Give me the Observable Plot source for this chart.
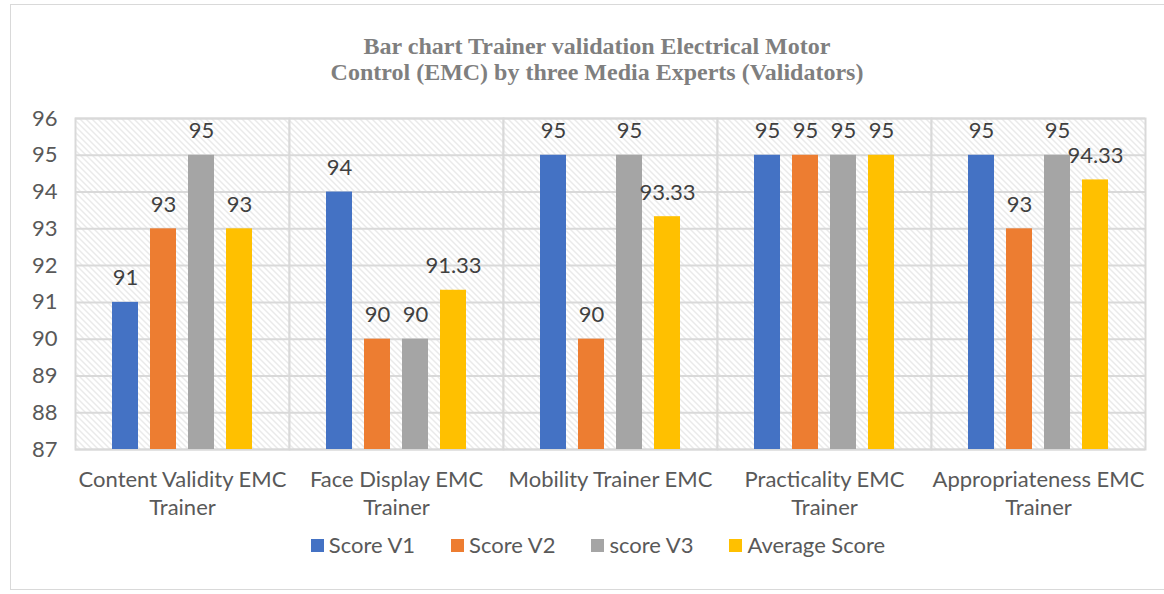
<!DOCTYPE html>
<html>
<head>
<meta charset="utf-8">
<script src="https://cdn.jsdelivr.net/npm/d3@7"></script>
<script src="https://cdn.jsdelivr.net/npm/@observablehq/plot@0.6"></script>
<style>
  html, body { margin: 0; padding: 0; background: #fff; }
  #wrap { position: relative; width: 1164px; height: 594px; overflow: hidden; font-family: Lato, "Noto Sans", sans-serif; }
  #border { position: absolute; left: 10px; top: 4px; width: 1170px; height: 586px; border: 1px solid #d9d9d9; box-sizing: border-box; }
  #title { position: absolute; left: 0; width: 1194px; top: 33px; text-align: center; font-family: "Liberation Serif", "Times New Roman", serif; font-weight: bold; font-size: 24px; line-height: 26px; color: #7f7f7f; }
  #chart { position: absolute; left: 0; top: 95px; }
  #legend { position: absolute; left: 0; width: 1164px; top: 531px; display: flex; justify-content: center; gap: 36px; font-size: 22px; line-height: 28px; color: #595959; padding-left: 32px; box-sizing: border-box; }
  .item { display: flex; align-items: center; gap: 5px; }
  .sw { width: 13px; height: 13px; display: inline-block; }
</style>
</head>
<body>
<div id="wrap">
  <div id="border"></div>
  <div id="title">Bar chart Trainer validation Electrical Motor<br>Control (EMC) by three Media Experts (Validators)</div>
  <div id="chart"></div>
  <div id="legend"></div>
</div>
<script>
const categories = [
  "Content Validity EMC\nTrainer",
  "Face Display EMC\nTrainer",
  "Mobility Trainer EMC",
  "Practicality EMC\nTrainer",
  "Appropriateness EMC\nTrainer"
];
const series = ["Score V1", "Score V2", "score V3", "Average Score"];
const colors = ["#4472C4", "#ED7D31", "#A5A5A5", "#FFC000"];
const scoreV1 = [91, 94, 95, 95, 95];
const scoreV2 = [93, 90, 90, 95, 93];
const scoreV3 = [95, 90, 95, 95, 95];
const average = [93, 91.33, 93.33, 95, 94.33];
const yTicks = [87, 88, 89, 90, 91, 92, 93, 94, 95, 96];

const seriesValues = [scoreV1, scoreV2, scoreV3, average];
const data = [];
categories.forEach((c, i) => {
  series.forEach((s, j) => {
    data.push({category: c, series: s, value: seriesValues[j][i]});
  });
});

const svg = Plot.plot({
  width: 1164,
  height: 430,
  marginTop: 23,
  marginBottom: 76,
  marginLeft: 73,
  marginRight: 17,
  style: {fontFamily: "Lato, 'Noto Sans', sans-serif", background: "transparent"},
  fx: {domain: categories, padding: 0, label: null, axis: null},
  x: {domain: series, paddingInner: 0.32, paddingOuter: 0.945, axis: null},
  y: {domain: [87, 96], label: null},
  color: {domain: series, range: colors},
  marks: [
    Plot.frame({fill: "url(#hatch)", stroke: "#d9d9d9", strokeWidth: 2}),
    Plot.gridY(yTicks, {stroke: "#d9d9d9", strokeWidth: 2, strokeOpacity: 1}),
    Plot.axisY(yTicks, {tickSize: 0, tickPadding: 18, fontSize: 22, fill: "#595959", label: null}),
    Plot.axisFx({anchor: "bottom", tickSize: 0, tickPadding: 17, fontSize: 22, fill: "#595959", lineHeight: 1.28, label: null}),
    Plot.barY(data, {fx: "category", x: "series", y1: 87, y2: "value", fill: "series"}),
    Plot.text(data, {fx: "category", x: "series", y: "value", text: d => String(d.value), dy: -24, fontSize: 22, fill: "#404040"})
  ]
});

const defs = d3.select(svg).insert("defs", ":first-child");
const pat = defs.append("pattern").attr("id", "hatch").attr("patternUnits", "userSpaceOnUse").attr("width", 6).attr("height", 6);
pat.append("rect").attr("width", 6).attr("height", 6).attr("fill", "#ffffff");
pat.append("path").attr("d", "M-1,-1 L7,7 M-1,5 L1,7 M5,-1 L7,1").attr("stroke", "#d4d4d4").attr("stroke-width", 1);

document.getElementById("chart").appendChild(svg);

const legend = document.getElementById("legend");
series.forEach((s, i) => {
  const it = document.createElement("div");
  it.className = "item";
  const sw = document.createElement("span");
  sw.className = "sw";
  sw.style.background = colors[i];
  it.appendChild(sw);
  const t = document.createElement("span");
  t.textContent = s;
  it.appendChild(t);
  legend.appendChild(it);
});
</script>
</body>
</html>
